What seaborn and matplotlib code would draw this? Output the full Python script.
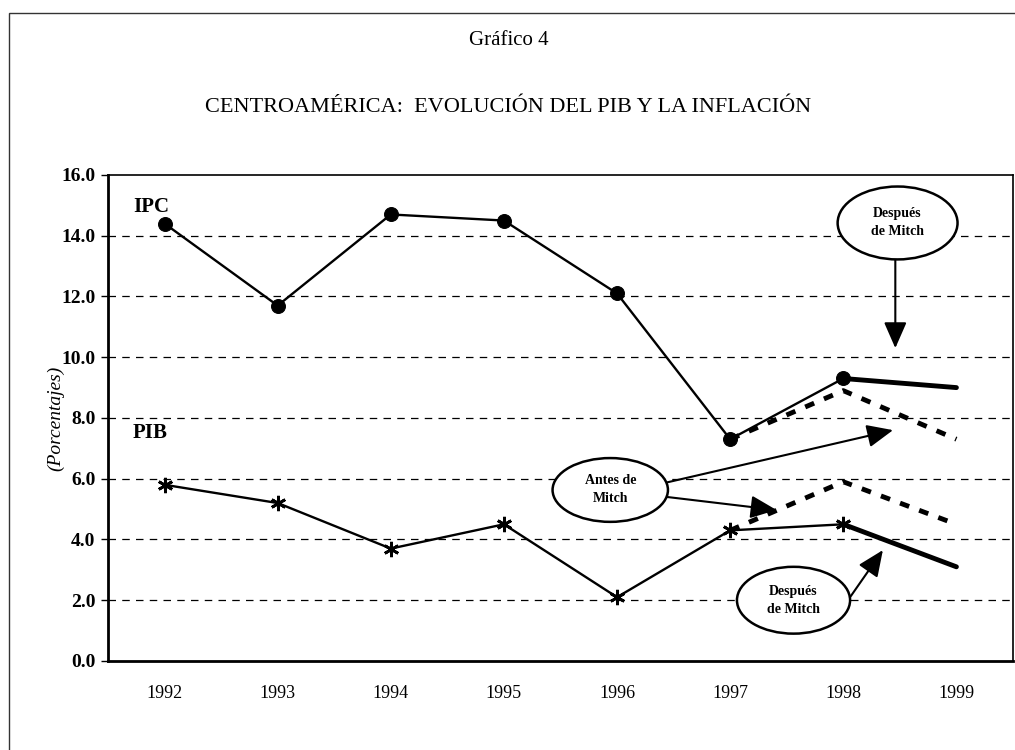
import pandas as pd
import numpy as np
import matplotlib
matplotlib.use("Agg")
import matplotlib.pyplot as plt
import seaborn as sns
from matplotlib.patches import Ellipse, Rectangle

#data
years = [1992, 1993, 1994, 1995, 1996, 1997, 1998]
ipc = [14.4, 11.7, 14.7, 14.5, 12.1, 7.3, 9.3]
pib = [5.8, 5.2, 3.7, 4.5, 2.1, 4.3, 4.5]

#after Mitch (solid, thick)
post_years = [1998, 1999]
ipc_post = [9.3, 9.0]
pib_post = [4.5, 3.1]

#before Mitch (dashed, thick)
pre_years = [1997, 1998, 1999]
ipc_pre = [7.3, 8.9, 7.3]
pib_pre = [4.3, 5.9, 4.5]

all_years = [1992, 1993, 1994, 1995, 1996, 1997, 1998, 1999]
yticks = [0, 2, 4, 6, 8, 10, 12, 14, 16]

sns.set_style("white")
plt.rcParams['font.family'] = ['Liberation Serif', 'DejaVu Serif']
plt.rcParams['text.color'] = 'black'
plt.rcParams['axes.labelcolor'] = 'black'
plt.rcParams['xtick.color'] = 'black'
plt.rcParams['ytick.color'] = 'black'

fig = plt.figure(figsize=(10.15, 7.5), dpi=100)
ax = fig.add_axes([0.1064, 0.1187, 0.8916, 0.648])

#outer frame
fig.patches.append(Rectangle((9/1015, -0.1), 1.2, 0.1 + (750-13)/750, transform=fig.transFigure,
                             fill=False, edgecolor='#333333', linewidth=1.0))

df = pd.DataFrame({'year': years, 'IPC': ipc, 'PIB': pib})

#main lines
sns.lineplot(data=df, x='year', y='IPC', ax=ax, color='black', linewidth=1.7,
             marker='o', markersize=10, markeredgecolor='black')
sns.lineplot(data=df, x='year', y='PIB', ax=ax, color='black', linewidth=1.7,
             marker=(6, 2, 0), markersize=11, markeredgewidth=2, markeredgecolor='black')

#before Mitch - dashed
sns.lineplot(x=pre_years, y=ipc_pre, ax=ax, color='black', linewidth=3.5, dashes=False)
sns.lineplot(x=pre_years, y=pib_pre, ax=ax, color='black', linewidth=3.5, dashes=False)
for l in ax.lines[-2:]:
    l.set_dashes((2, 2.2))
    l.set_solid_capstyle('butt')

#after Mitch - solid thick
sns.lineplot(x=post_years, y=ipc_post, ax=ax, color='black', linewidth=3.5)
sns.lineplot(x=post_years, y=pib_post, ax=ax, color='black', linewidth=3.5)

#axes
ax.set_xlim(1991.5, 1999.5)
ax.set_ylim(0, 16)
ax.set_yticks(yticks)
ax.set_yticklabels(['{:.1f}'.format(v) for v in yticks], fontsize=14, fontweight='bold')
ax.set_xticks(all_years)
ax.set_xticklabels([str(y) for y in all_years], fontsize=13)
ax.set_xticks(np.arange(1991.5, 1999.6, 1.0), minor=True)
ax.tick_params(axis='x', which='major', length=0, pad=17)
ax.tick_params(axis='x', which='minor', length=6, width=1, direction='out', color='black')
ax.tick_params(axis='y', length=5, width=1, direction='out', color='black', pad=4, left=True)
ax.set_xlabel('')
ax.set_ylabel('(Porcentajes)', fontsize=14, fontstyle='italic', labelpad=-2)

for s in ax.spines.values():
    s.set_color('black')
    s.set_linewidth(1.2)
ax.spines['left'].set_linewidth(2)
ax.spines['bottom'].set_linewidth(2)

for v in yticks[1:-1]:
    ax.axhline(v, color='black', linewidth=0.9, linestyle=(0, (6, 5)), zorder=0)

#series labels
ax.text(1991.72, 14.95, 'IPC', fontsize=15, fontweight='bold', ha='left', va='center')
ax.text(1991.72, 7.5, 'PIB', fontsize=15, fontweight='bold', ha='left', va='center')

#callouts
bubbles = [
    (1998.48, 14.42, 1.06, 2.4, 'Después\nde Mitch'),
    (1995.94, 5.63, 1.02, 2.1, 'Antes de\nMitch'),
    (1997.56, 2.0, 1.0, 2.2, 'Después\nde Mitch'),
]
for bx, by, bw, bh, txt in bubbles:
    ax.add_patch(Ellipse((bx, by), bw, bh, facecolor='white', edgecolor='black', linewidth=1.8, zorder=5))
    ax.text(bx, by, txt, fontsize=10, fontweight='bold', ha='center', va='center',
            linespacing=1.5, zorder=6)

arrows = [
    ((1998.46, 13.2), (1998.46, 10.3)),
    ((1996.42, 5.86), (1998.44, 7.6)),
    ((1996.44, 5.4), (1997.41, 4.97)),
    ((1998.06, 2.1), (1998.35, 3.65)),
]
for start, end in arrows:
    ax.annotate('', xy=end, xytext=start, zorder=4,
                arrowprops=dict(arrowstyle='-|>,head_length=1.6,head_width=0.7',
                                color='black', linewidth=1.5, shrinkA=0, shrinkB=0))

#titles
fig.text(0.501, 0.946, 'Gráfico 4', fontsize=15, ha='center', va='center')
fig.text(0.501, 0.856, 'CENTROAMÉRICA:  EVOLUCIÓN DEL PIB Y LA INFLACIÓN', fontsize=16,
         ha='center', va='center')

plt.savefig('out.png', dpi=100)
